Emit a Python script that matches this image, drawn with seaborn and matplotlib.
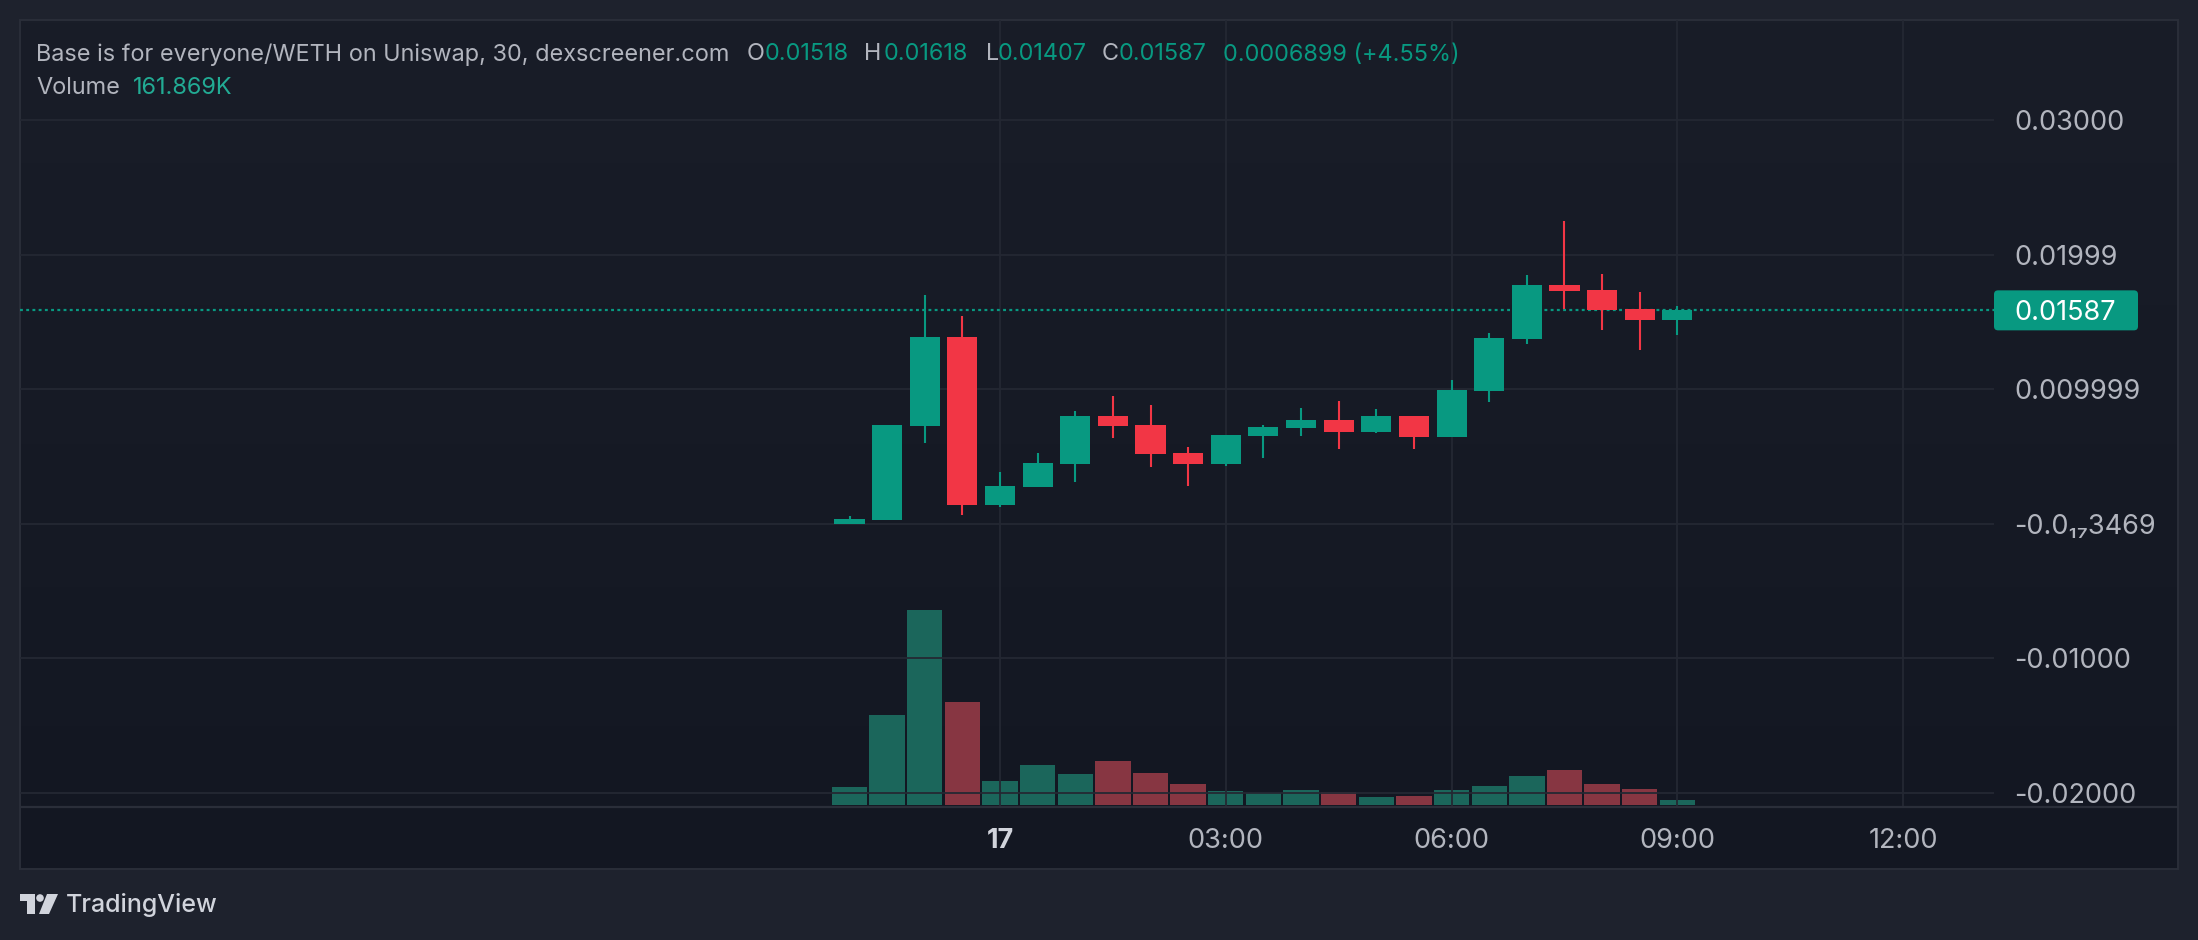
import numpy as np
import pandas as pd
import matplotlib
matplotlib.use("Agg")
import matplotlib.pyplot as plt
import seaborn as sns
from matplotlib.patches import Rectangle, FancyBboxPatch, Polygon, Circle
from matplotlib.lines import Line2D
from matplotlib.transforms import IdentityTransform
from matplotlib.colors import LinearSegmentedColormap

# ---------------- data ----------------
times = ["22:00", "22:30", "23:00", "23:30", "00:00", "00:30", "01:00", "01:30",
         "02:00", "02:30", "03:00", "03:30", "04:00", "04:30", "05:00", "05:30",
         "06:00", "06:30", "07:00", "07:30", "08:00", "08:30", "09:00"]
opens = [0.00000, 0.00028, 0.00727, 0.01389, 0.00140, 0.00274, 0.00445, 0.00801,
         0.00735, 0.00526, 0.00445, 0.00653, 0.00712, 0.00771, 0.00682, 0.00801,
         0.00645, 0.00987, 0.01374, 0.01775, 0.01738, 0.01597, 0.01518]
highs = [0.00058, 0.00735, 0.01701, 0.01545, 0.00385, 0.00526, 0.00839, 0.00950,
         0.00883, 0.00571, 0.00660, 0.00735, 0.00861, 0.00913, 0.00853, 0.00801,
         0.01069, 0.01418, 0.01850, 0.02251, 0.01857, 0.01723, 0.01618]
lows = [0.00000, 0.00028, 0.00601, 0.00065, 0.00125, 0.00274, 0.00311, 0.00638,
        0.00422, 0.00281, 0.00430, 0.00489, 0.00653, 0.00556, 0.00675, 0.00556,
        0.00645, 0.00906, 0.01337, 0.01597, 0.01441, 0.01292, 0.01407]
closes = [0.00036, 0.00735, 0.01389, 0.00140, 0.00281, 0.00452, 0.00801, 0.00727,
          0.00519, 0.00445, 0.00660, 0.00720, 0.00771, 0.00682, 0.00801, 0.00645,
          0.00994, 0.01381, 0.01775, 0.01731, 0.01590, 0.01518, 0.01587]
volumes_k = [580, 2900, 6300, 3330, 780, 1300, 1000, 1420, 1030, 680, 450, 390,
             485, 420, 260, 290, 485, 615, 940, 1130, 680, 520, 162]

price_ticks = [0.03, 0.02, 0.01, 0.0, -0.01, -0.02]
price_tick_labels = ["0.03000", "0.01999", "0.009999", "-0.0\u2081\u20873469", "-0.01000", "-0.02000"]
time_tick_hours = [0, 3, 6, 9, 12]          # hours of the 17th
time_tick_labels = ["17", "03:00", "06:00", "09:00", "12:00"]
first_bar_hour = -2                          # 22:00 of the previous day
bar_hours = 0.5

title_text = "Base is for everyone/WETH on Uniswap, 30, dexscreener.com"
ohlc_header = [("O", "0.01518"), ("H", "0.01618"), ("L", "0.01407"), ("C", "0.01587")]
change_text = "0.0006899 (+4.55%)"
volume_label = "161.869K"
last_price_label = "0.01587"

# ---------------- style ----------------
sns.set_theme(style="dark")
plt.rcParams["font.family"] = ["Inter", "DejaVu Sans"]

OUTER_BG = "#1e222d"
GRID = "#242833"
BORDER = "#2a2e39"
TEXT = "#b2b5be"
UP = "#089981"
DOWN = "#f23645"
VOL_UP = "#1b665b"
VOL_DOWN = "#873642"

W, H = 2198, 940
fig = plt.figure(figsize=(W / 100, H / 100), dpi=100, facecolor=OUTER_BG)

def fx(px):
    return px / W

def fy(py):
    return 1 - py / H

# panel background with subtle vertical gradient
P_L, P_T, P_R, P_B = 20, 20, 2178, 869
bg_ax = fig.add_axes([fx(P_L), fy(P_B), fx(P_R - P_L), (P_B - P_T) / H], zorder=-10)
cmap = LinearSegmentedColormap.from_list("bg", ["#191d28", "#131722"])
bg_ax.imshow(np.linspace(0, 1, 256).reshape(-1, 1), aspect="auto", cmap=cmap,
             extent=[0, 1, 0, 1])
bg_ax.set_axis_off()

# main plotting axes
A_L, A_T, A_R, A_B = 20, 20, 1994, 807
ax = fig.add_axes([fx(A_L), fy(A_B), fx(A_R - A_L), (A_B - A_T) / H])
axv = ax.twinx()
ax.set_zorder(axv.get_zorder() + 1)
ax.patch.set_visible(False)
axv.patch.set_visible(False)

n = len(times)
idx = np.arange(n)
up = np.array(closes) >= np.array(opens)

# volume bars (seaborn)
vol_df = pd.DataFrame({"idx": idx, "volume": volumes_k,
                       "dir": np.where(up, "up", "down")})
sns.barplot(data=vol_df, x="idx", y="volume", hue="dir",
            palette={"up": VOL_UP, "down": VOL_DOWN}, native_scale=True,
            width=0.94, dodge=False, legend=False, errorbar=None,
            saturation=1, linewidth=0, ax=axv)
px_per_unit_vol = 195 / 6300.0
axv.set_ylim(-2 / px_per_unit_vol, (A_B - A_T - 2) / px_per_unit_vol)
axv.set_yticks([])
axv.set_ylabel("")
axv.set_xlabel("")
for s in axv.spines.values():
    s.set_visible(False)

# candles
o = np.array(opens); c = np.array(closes)
colors = np.where(up, UP, DOWN)
ax.vlines(idx, lows, highs, colors=colors, linewidth=1.5, zorder=3)
ax.bar(idx, np.abs(c - o), bottom=np.minimum(o, c), width=0.8, color=colors,
       linewidth=0, zorder=4)

# scales
px_per_bar = 37.63
x0_px = 849.5
ax.set_xlim((A_L - x0_px) / px_per_bar, (A_R - x0_px) / px_per_bar)
axv.set_xlim(ax.get_xlim())
px_per_price = 13450.0
y0_px = 523.8
ax.set_ylim((y0_px - A_B) / px_per_price, (y0_px - A_T) / px_per_price)

# grid / ticks
tick_pos = [(h - first_bar_hour) / bar_hours for h in time_tick_hours]
ax.set_xticks(tick_pos)
ax.set_xticklabels(time_tick_labels)
ax.set_yticks(price_ticks)
ax.set_yticklabels(price_tick_labels)
ax.yaxis.tick_right()
ax.grid(True, color=GRID, linewidth=1.3)
ax.set_axisbelow(True)
ax.tick_params(axis="y", length=0, pad=14.4, labelsize=19.5, labelcolor=TEXT)
ax.tick_params(axis="x", length=0, pad=15.2, labelsize=19.5, labelcolor=TEXT)
for lab in ax.get_xticklabels():
    if lab.get_text() == "17":
        lab.set_fontweight("bold")
        lab.set_color("#d1d4dc")
for s in ax.spines.values():
    s.set_visible(False)

# last price dotted line
ax.axhline(closes[-1], color=UP, linewidth=1.6, linestyle=(0, (1.3, 1.5)), zorder=2)

# panel border and time-axis line
fig.add_artist(Rectangle((fx(P_L), fy(P_B)), fx(P_R - P_L), (P_B - P_T) / H,
                         transform=fig.transFigure, facecolor="none",
                         edgecolor=BORDER, linewidth=1.4))
fig.add_artist(Line2D([fx(P_L), fx(P_R)], [fy(807), fy(807)], color=BORDER,
                      linewidth=1.6, transform=fig.transFigure))

# last price label box
fig.canvas.draw()
yd = ax.transData.transform((0, closes[-1]))[1]
fig.add_artist(FancyBboxPatch((1994, yd - 20), 144, 40,
                              boxstyle="round,pad=0,rounding_size=4",
                              transform=IdentityTransform(), facecolor=UP,
                              edgecolor="none"))
fig.text(2014 / W, yd / H, last_price_label, color="white", fontsize=19.5,
         va="center_baseline", ha="left")

# header
fs_h = 16.9
Y1, Y2 = 54.5, 88.5
fig.text(fx(36), fy(Y1), title_text, color=TEXT, fontsize=fs_h, va="center")
ohlc_x = [(747, 765), (864, 884), (986, 998), (1102, 1119)]
for (letter, val), (lx, vx) in zip(ohlc_header, ohlc_x):
    fig.text(fx(lx), fy(Y1), letter, color=TEXT, fontsize=fs_h, va="center")
    fig.text(fx(vx), fy(Y1), val, color=UP, fontsize=fs_h, va="center")
fig.text(fx(1223), fy(Y1), change_text, color=UP, fontsize=fs_h, va="center")
fig.text(fx(36), fy(Y2), "Volume", color=TEXT, fontsize=fs_h, va="center")
fig.text(fx(133), fy(Y2), volume_label, color="#22ab94", fontsize=fs_h, va="center")

# TradingView logo + text
LOGO = "#d1d4dc"
def pxpoly(pts):
    return Polygon([(fx(x), fy(y)) for x, y in pts], closed=True,
                   transform=fig.transFigure, facecolor=LOGO, edgecolor="none")
fig.add_artist(pxpoly([(20, 894), (35, 894), (35, 914), (27, 914), (27, 901), (20, 901)]))
fig.add_artist(Circle((40, H - 898), 3.8, transform=IdentityTransform(),
                      facecolor=LOGO, edgecolor="none"))
fig.add_artist(pxpoly([(47, 894), (58, 894), (49, 914), (39, 914)]))
fig.text(fx(66), fy(905), "TradingView", color=LOGO, fontsize=18,
         fontweight="medium", va="center")

fig.savefig("out.png", dpi=100, facecolor=OUTER_BG)
